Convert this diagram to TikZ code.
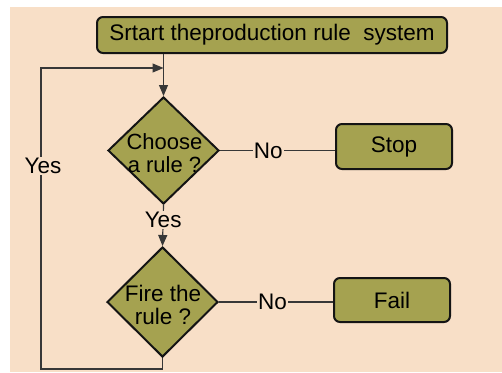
\documentclass[tikz,border=0pt]{standalone}
\usepackage{fontspec}
\setmainfont{Liberation Sans}
\usetikzlibrary{shapes.geometric,arrows.meta,calc}
\definecolor{peach}{HTML}{F8DFC7}
\definecolor{olive}{HTML}{A5A250}
\definecolor{ink}{HTML}{141414}
\begin{document}
\begin{tikzpicture}[x=1pt,y=-1pt,
  font=\fontsize{22.5}{21}\selectfont,
  box/.style={draw=ink, line width=2pt, fill=olive, rounded corners=6pt, inner sep=0pt},
  dia/.style={draw=ink, line width=2pt, fill=olive, diamond, inner sep=0pt},
  con/.style={draw=ink!85, line width=1.2pt, line join=miter},
  arr/.style={con, -{Triangle[length=11pt,width=9pt]}},
  lbl/.style={fill=peach, inner sep=1pt},
  dtxt/.style={align=center, inner sep=0pt}]
\useasboundingbox (0,0) rectangle (502,372);
\fill[peach] (10,7) rectangle (502,372);

\node[box, minimum width=350pt, minimum height=36pt] (start) at (272,35) {Srtart theproduction rule\ \ system};
\node[dia, minimum width=111pt, minimum height=107pt] (d1) at (163.5,150.5) {};
\node[dtxt, font=\fontsize{22}{22.5}\selectfont] (d1t) at (164.5,153) {Choose\\a rule ?};
\node[box, minimum width=116pt, minimum height=45pt] (stop) at (394,146.5) {Stop};
\node[dia, minimum width=111pt, minimum height=110pt] (d2) at (162.5,302) {};
\node[dtxt, font=\fontsize{22.5}{23.5}\selectfont] (d2t) at (163,305) {Fire the\\rule ?};
\node[box, minimum width=116pt, minimum height=44pt] (fail) at (392,300) {Fail};
\coordinate (j) at (163.5,68);

\draw[arr] (start.south -| d1.north) -- (d1.north);
\draw[arr] (d1.south) -- node[lbl, pos=0.37] (yes1) {Yes} (d2.north);
\draw[con] (d1.east) -- node[lbl, pos=0.42] (no1) {No} (d1.east -| stop.west);
\draw[con] (d2.east) -- node[lbl, pos=0.47] (no2) {No} (d2.east -| fail.west);
\draw[arr] (d2.south) -- (d2.south |- 0,369) -- (41,369) -- node[lbl, pos=0.674, xshift=2pt] (yes2) {Yes} (41,68) -- (j);
\end{tikzpicture}
\end{document}
